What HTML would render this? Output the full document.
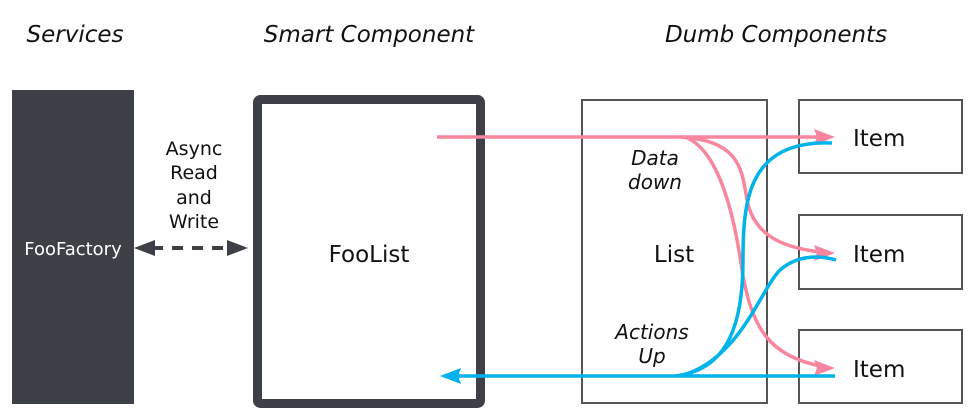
<!DOCTYPE html>
<html><head><meta charset="utf-8"><style>
html,body{margin:0;padding:0;background:#fff;}
svg{display:block;}
text{font-family:"DejaVu Sans","Liberation Sans",sans-serif;}
</style></head><body>
<svg width="975" height="420" viewBox="0 0 975 420" xmlns="http://www.w3.org/2000/svg">
<g font-style="italic" font-size="23" fill="#111">
<text x="75" y="42" text-anchor="middle">Services</text>
<text x="369" y="42" text-anchor="middle">Smart Component</text>
<text x="776" y="42" text-anchor="middle">Dumb Components</text>
</g>
<rect x="12" y="90" width="122" height="314" fill="#3d4047"/>
<text x="73" y="255" text-anchor="middle" fill="#fff" font-size="18">FooFactory</text>
<rect x="257.5" y="99.5" width="223" height="304" rx="3" fill="#fff" stroke="#3d4047" stroke-width="9"/>
<text x="369" y="262" text-anchor="middle" font-size="23" fill="#111">FooList</text>
<g font-size="19" fill="#111" text-anchor="middle">
<text x="194" y="155">Async</text>
<text x="194" y="179">Read</text>
<text x="194" y="204">and</text>
<text x="194" y="228">Write</text>
</g>
<line x1="152" y1="248" x2="230" y2="248" stroke="#3d4047" stroke-width="4" stroke-dasharray="11,9"/>
<polygon points="134,248 155,240 155,256" fill="#3d4047"/>
<polygon points="248,248 227,240 227,256" fill="#3d4047"/>
<rect x="582" y="100" width="185" height="303" fill="none" stroke="#555" stroke-width="2"/>
<text x="674" y="262" text-anchor="middle" font-size="23" fill="#111">List</text>
<g font-style="italic" font-size="20" fill="#111" text-anchor="middle">
<text x="655" y="165">Data</text>
<text x="655" y="189">down</text>
<text x="652" y="339">Actions</text>
<text x="652" y="363">Up</text>
</g>
<g fill="none" stroke="#555" stroke-width="2">
<rect x="799" y="100" width="163" height="73"/>
<rect x="799" y="215" width="163" height="74"/>
<rect x="799" y="330" width="163" height="73"/>
</g>
<g font-size="23" fill="#111">
<text x="853" y="146">Item</text>
<text x="853" y="262">Item</text>
<text x="853" y="377">Item</text>
</g>
<g fill="none" stroke="#f7869e" stroke-width="3.5">
<line x1="437" y1="137" x2="820" y2="137"/>
<path d="M680,137 C740,140 742,170 747,200 C755,240 790,248 820,252"/>
<path d="M685,137 C720,150 735,220 742,270 C752,330 770,355 820,366"/>
</g>
<g fill="#f7869e">
<polygon points="835,137 814,129 817,137 814,145"/>
<polygon points="835,253 814,245 817,253 814,261"/>
<polygon points="835,368 814,360 817,368 814,376"/>
</g>
<g fill="none" stroke="#00b4ea" stroke-width="3.5">
<line x1="835" y1="376" x2="455" y2="376"/>
<path d="M675,376 C730,370 743,320 743,260 C743,200 748,140 832,143"/>
<path d="M680,376 C740,360 760,290 780,270 C795,257 815,254 836,260"/>
</g>
<polygon points="440,376 461,368 458,376 461,384" fill="#00b4ea"/>
</svg>
</body></html>
